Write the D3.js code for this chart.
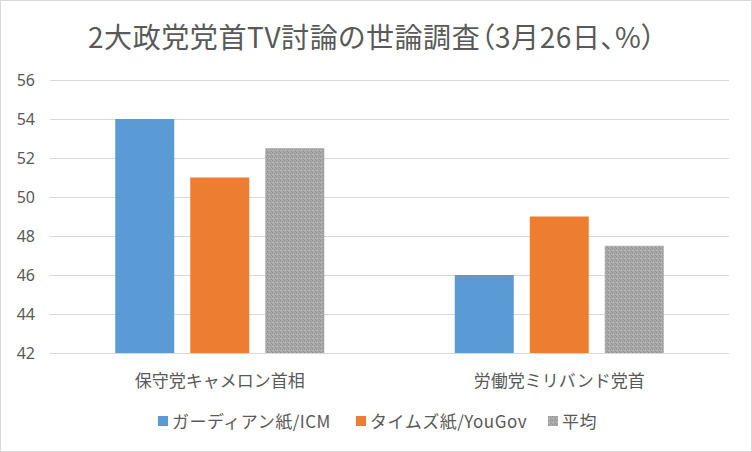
<!DOCTYPE html>
<html><head><meta charset="utf-8">
<script src="https://cdn.jsdelivr.net/npm/d3@7"></script>
<style>body{margin:0;background:#fff;}svg{display:block;font-family:"Noto Sans CJK JP","Noto Sans",sans-serif;}</style>
</head><body>
<script>
const categories = ["保守党キャメロン首相", "労働党ミリバンド党首"];
const seriesNames = ["ガーディアン紙/ICM", "タイムズ紙/YouGov", "平均"];
const guardian = [54, 46];
const times = [51, 49];
const average = [52.5, 47.5];
const yTicks = [42, 44, 46, 48, 50, 52, 54, 56];
const colors = ["#5b9bd5", "#ed7d31", "url(#grayPat)"];

(function () {
const W = 752, H = 452;
const svg = d3.select("body").append("svg").attr("width", W).attr("height", H);
const defs = svg.append("defs");
const pat = defs.append("pattern").attr("id", "grayPat").attr("patternUnits", "userSpaceOnUse").attr("width", 4).attr("height", 4);
pat.append("rect").attr("width", 4).attr("height", 4).attr("fill", "#a9a9a9");
pat.append("rect").attr("x", 0).attr("y", 0).attr("width", 1).attr("height", 1).attr("fill", "#8f8f8f");
pat.append("rect").attr("x", 2).attr("y", 1).attr("width", 1).attr("height", 1).attr("fill", "#959595");
pat.append("rect").attr("x", 1).attr("y", 2).attr("width", 1).attr("height", 1).attr("fill", "#c0c0c0");
pat.append("rect").attr("x", 3).attr("y", 3).attr("width", 1).attr("height", 1).attr("fill", "#939393");

svg.append("rect").attr("x", 0.5).attr("y", 0.5).attr("width", W - 1).attr("height", H - 1)
  .attr("fill", "#fff").attr("stroke", "#d9d9d9");

svg.append("text").attr("x", 372).attr("y", 48).attr("text-anchor", "middle")
  .attr("font-size", 28).attr("fill", "#595959").style("font-feature-settings", "'palt'")
  .attr("letter-spacing", 0.6)
  .text("2大政党党首TV討論の世論調査（3月26日、%）");

const pl = 50, pr = 729, pt = 80, pb = 353;
const y = d3.scaleLinear().domain([42, 56]).range([pb, pt]);
const x0 = d3.scaleBand().domain(categories).range([pl, pr]).paddingInner(0).paddingOuter(0);
const half = 104.5;
const x1 = d3.scaleBand().domain(seriesNames).range([x0.bandwidth() / 2 - half, x0.bandwidth() / 2 + half]).paddingInner(16 / 75).paddingOuter(0);

svg.append("g").selectAll("line").data(yTicks).join("line")
  .attr("x1", pl).attr("x2", pr).attr("y1", d => Math.round(y(d)) + 0.5).attr("y2", d => Math.round(y(d)) + 0.5)
  .attr("stroke", "#d9d9d9").attr("stroke-width", 1);

const yAxis = d3.axisLeft(y).tickValues(yTicks).tickSize(0).tickPadding(0);
const ga = svg.append("g").attr("transform", "translate(35,0)").call(yAxis);
ga.select(".domain").remove();
ga.selectAll("text").attr("font-size", 16).attr("fill", "#595959").attr("font-family", "'Noto Sans','Noto Sans CJK JP',sans-serif");

const series = [guardian, times, average];
const g = svg.append("g");
categories.forEach((c, ci) => {
  series.forEach((vals, si) => {
    g.append("rect")
      .attr("x", x0(c) + x1(seriesNames[si]))
      .attr("width", x1.bandwidth())
      .attr("y", y(vals[ci]))
      .attr("height", y(42) - y(vals[ci]))
      .attr("fill", colors[si]);
  });
});

const xAxis = d3.axisBottom(x0).tickSize(0).tickPadding(0);
const gx = svg.append("g").attr("transform", `translate(0,${pb})`).call(xAxis);
gx.select(".domain").remove();
gx.selectAll("text").attr("font-size", 17).attr("fill", "#595959").attr("dy", "0").attr("y", 34)
  .attr("font-family", "'Noto Sans CJK JP',sans-serif");

const legX = [158, 356, 548];
const leg = svg.append("g");
seriesNames.forEach((n, i) => {
  leg.append("rect").attr("x", legX[i]).attr("y", 416).attr("width", 10).attr("height", 10).attr("fill", colors[i]);
  leg.append("text").attr("x", legX[i] + 14).attr("y", 428).attr("font-size", 17).attr("fill", "#595959")
    .attr("letter-spacing", 0.5).text(n);
});
})();
</script>
</body></html>
